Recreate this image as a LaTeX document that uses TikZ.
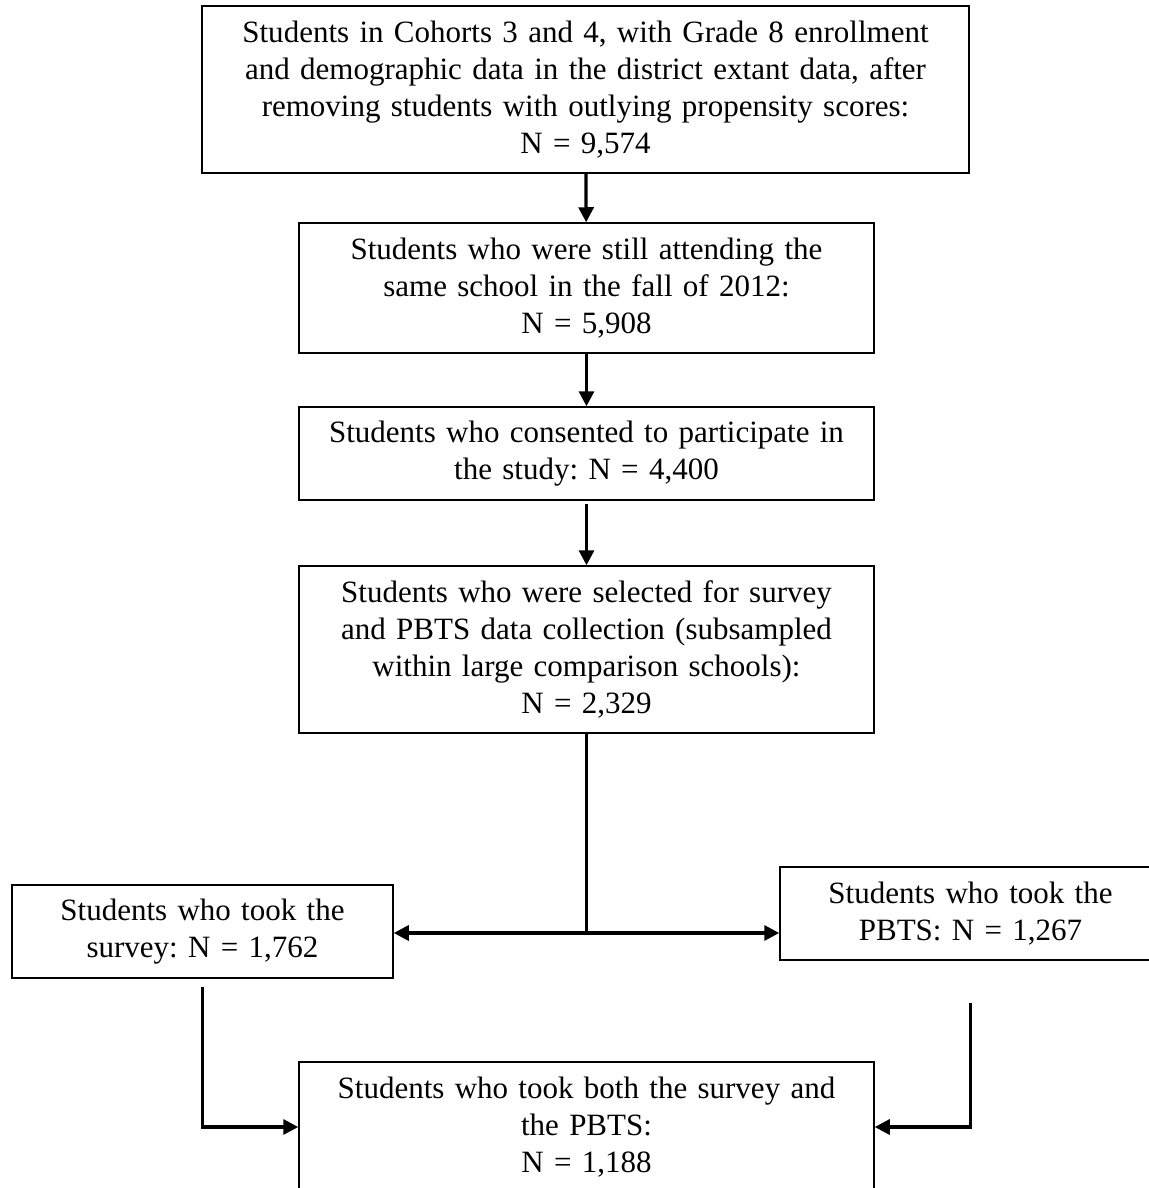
\documentclass[tikz,border=0pt]{standalone}
\usepackage{fontspec}
\setmainfont{Liberation Serif}
\usetikzlibrary{arrows.meta}
\frenchspacing

\begin{document}
\begin{tikzpicture}[x=0.5pt,y=-0.5pt,>={Triangle[length=7.5pt,width=7.5pt]},
  font=\fontsize{15.5}{18.5}\selectfont,
  box/.style={draw,line width=0.75pt,inner sep=4pt,align=center,
    minimum width=287.5pt,text width=279.5pt},
  widebox/.style={box,minimum width=383.5pt,text width=375.5pt},
  sidebox/.style={box,minimum width=190.5pt,text width=182.5pt,minimum height=46.5pt},
  link/.style={line width=1.6pt,line cap=rect},
  flow/.style={line width=1.6pt,->}]
\useasboundingbox (0,0) rectangle (1149,1188);
\clip (0,0) rectangle (1149,1188);
\node[widebox,minimum height=83.5pt] (all) at (585.5,89.5)
  {Students in Cohorts 3 and 4, with Grade 8 enrollment\\
   and demographic data in the district extant data, after\\
   removing students with outlying propensity scores:\\
   N = 9,574};
\node[box,minimum height=65pt] (same) at (586.5,288)
  {Students who were still attending the\\ same school in the fall of 2012:\\ N = 5,908};
\node[box,minimum height=46.5pt] (consent) at (586.5,453.5)
  {Students who consented to participate in\\ the study: N = 4,400};
\node[box,minimum height=83.5pt] (selected) at (586.5,649.5)
  {Students who were selected for survey\\ and PBTS data collection (subsampled\\
   within large comparison schools):\\ N = 2,329};
\node[sidebox] (survey) at (202.5,931.5) {Students who took the\\ survey: N = 1,762};
\node[sidebox] (pbts) at (970.5,913.5) {Students who took the\\ PBTS: N = 1,267};
\node[box,minimum height=65pt] (both) at (586.5,1127)
  {Students who took both the survey and\\ the PBTS:\\ N = 1,188};

\draw[flow] (all) -- (same);
\draw[flow] (same) -- (consent);
\draw[flow,shorten <=1.5pt] (consent) -- (selected);
\coordinate (split) at (selected.south |- 0,933);
\draw[link] (selected.south) -- (split);
\draw[flow,<->] (survey.east |- split) -- (pbts.west |- split);
\draw[flow] ([yshift=-4pt]survey.south) |- (both.west);
\draw[flow] ([yshift=-21pt]pbts.south) |- (both.east);
\end{tikzpicture}
\end{document}
